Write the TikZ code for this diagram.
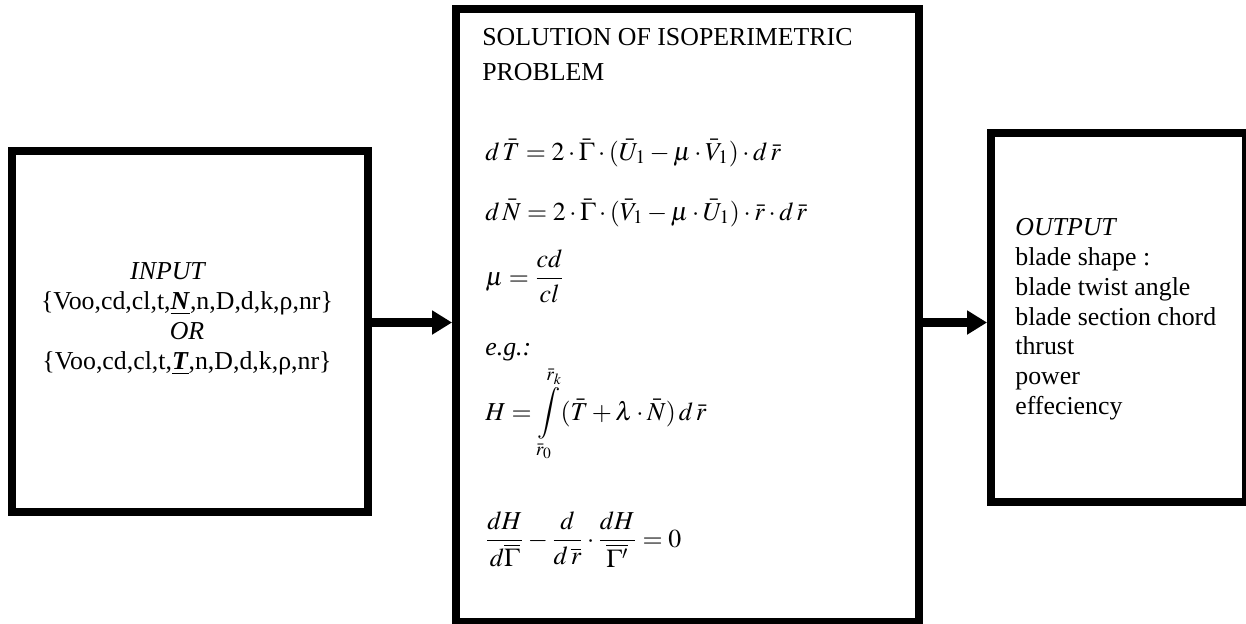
\documentclass[tikz,border=0pt]{standalone}
\usepackage{amsmath}
\usepackage{mathptmx}
\usepackage{fontspec}
\setmainfont{Liberation Serif}
\usetikzlibrary{arrows.meta, positioning, calc}

\begin{document}
\begin{tikzpicture}[x=0.02cm, y=-0.02cm,
    every node/.style={font=\fontsize{14.7}{17}\selectfont, inner sep=0pt},
    blockbox/.style={draw=black, line width=0.16cm, fill=white},
    flow/.style={line width=0.18cm, -{Triangle[length=0.4cm, width=0.46cm]}}]
    \useasboundingbox (0,0) rectangle (1246,623);

    % Blocks
    \node[blockbox, minimum width=7.12cm, minimum height=7.22cm] (inbox) at (190,331.5) {};
    \node[blockbox, minimum width=9.26cm, minimum height=12.26cm] (solbox) at (687.5,315.5) {};
    \node[blockbox, minimum width=5.1cm, minimum height=7.39cm] (outbox) at (1118.5,317.75) {};

    % Input text
    \node[align=center] (inputtxt) at (187,319) {\textit{INPUT}\hspace*{0.75cm}\\
        \{Voo,cd,cl,t,\underline{\textbf{\textit{N}}},n,D,d,k,ρ,nr\}\\
        \textit{OR}\hspace*{1.55cm}\\
        \{Voo,cd,cl,t,\underline{\textbf{\textit{T}}},n,D,d,k,ρ,nr\}};

    % Solution text
    \node[align=left, anchor=north west, font=\fontsize{14.7}{19.9}\selectfont] (soltitle) at (482,28) {SOLUTION OF ISOPERIMETRIC\\PROBLEM};
    \node[anchor=base west] (eqT) at (485,160) {$d\,\bar{T} = 2\cdot\bar{\Gamma}\cdot(\bar{U}_1 - \mu\cdot\bar{V}_1)\cdot d\,\bar{r}$};
    \node[anchor=base west] (eqN) at (485,220) {$d\,\bar{N} = 2\cdot\bar{\Gamma}\cdot(\bar{V}_1 - \mu\cdot\bar{U}_1)\cdot\bar{r}\cdot d\,\bar{r}$};
    \node[anchor=base west] (eqmu) at (485,285) {$\mu = \dfrac{cd}{cl}$};
    \node[anchor=base west] (eg) at (485,355) {\textit{e.g.:}};
    \node[anchor=base west] (eqH) at (485,420) {$\displaystyle H = \int\limits_{\bar{r}_0}^{\bar{r}_k}(\bar{T} + \lambda\cdot\bar{N})\,d\,\bar{r}$};
    \node[anchor=base west] (eqEL) at (485,547) {$\dfrac{dH}{d\overline{\Gamma}} - \dfrac{d}{d\,\overline{r}}\cdot\dfrac{dH}{\overline{\Gamma'}} = 0$};

    % Output text
    \node[align=left, anchor=north west] (outtxt) at (1015,218) {\textit{OUTPUT}\\blade shape :\\blade twist angle\\blade section chord\\thrust\\power\\effeciency};

    % Arrows
    \coordinate (lvl) at (0,322.5);
    \draw[flow] (inbox.east |- lvl) -- (solbox.west |- lvl);
    \draw[flow] (solbox.east |- lvl) -- (outbox.west |- lvl);
\end{tikzpicture}
\end{document}
